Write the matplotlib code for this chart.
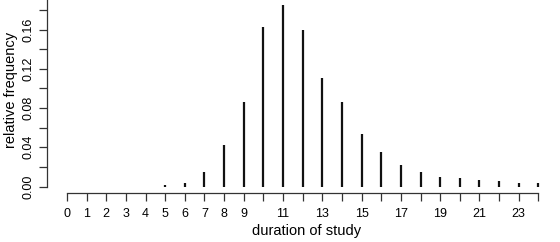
import matplotlib
matplotlib.use("Agg")
import matplotlib.pyplot as plt
import numpy as np

durations = list(range(0, 25))
rel_freq = [0, 0, 0, 0, 0, 0.0015, 0.004, 0.015, 0.042, 0.086, 0.163, 0.185,
            0.160, 0.111, 0.086, 0.054, 0.035, 0.022, 0.015, 0.010, 0.0085,
            0.007, 0.0055, 0.004, 0.0035]
x_tick_labels = ["0", "1", "2", "3", "4", "5", "6", "7", "8", "9", "", "11", "",
                 "13", "", "15", "", "17", "", "19", "", "21", "", "23", ""]
y_ticks = [0.00, 0.02, 0.04, 0.06, 0.08, 0.10, 0.12, 0.14, 0.16, 0.18]
y_tick_labels = ["0.00", "", "0.04", "", "0.08", "", "0.12", "", "0.16", ""]

plt.rcParams['font.family'] = ['Liberation Sans', 'DejaVu Sans']

W, H = 560, 242
fig = plt.figure(figsize=(W / 100, H / 100), dpi=100)

step = 19.64
x0_px = 67.0
yaxis_px = 47.0
xleft = (yaxis_px - x0_px) / step
xright = 25.0
right_px = x0_px + xright * step

base_px = 186.5
xaxis_px = 192.5
ppu = 981.0  # pixels per unit of y
ybottom = -(xaxis_px - base_px) / ppu
ytop = base_px / ppu

ax = fig.add_axes([yaxis_px / W, 1 - xaxis_px / H, (right_px - yaxis_px) / W, xaxis_px / H])
ax.set_xlim(xleft, xright)
ax.set_ylim(ybottom, ytop)

ax.vlines(durations, 0, rel_freq, colors="#111111", linewidth=1.6)

for s in ["top", "right"]:
    ax.spines[s].set_visible(False)
ax.spines["left"].set_bounds(0, ytop)
ax.spines["bottom"].set_bounds(0, 24)
for s in ["left", "bottom"]:
    ax.spines[s].set_color("#333333")
    ax.spines[s].set_linewidth(0.9)

ax.set_xticks(durations)
ax.set_xticklabels(x_tick_labels, fontsize=9)
ax.set_yticks(y_ticks)
ax.set_yticklabels(y_tick_labels, rotation=90, va="center", fontsize=9)
ax.tick_params(axis="both", direction="out", length=6.0, width=0.9, color="#333333")
ax.tick_params(axis="x", pad=5)
ax.tick_params(axis="y", pad=3)

ax.set_xlabel("duration of study", fontsize=10.5, labelpad=3)
ax.set_ylabel("relative frequency", fontsize=10.5, labelpad=3)
ax.xaxis.label.set_x((307 - yaxis_px) / (right_px - yaxis_px))
ax.yaxis.label.set_y((xaxis_px - 90) / xaxis_px)

fig.savefig("out.png", dpi=100)
